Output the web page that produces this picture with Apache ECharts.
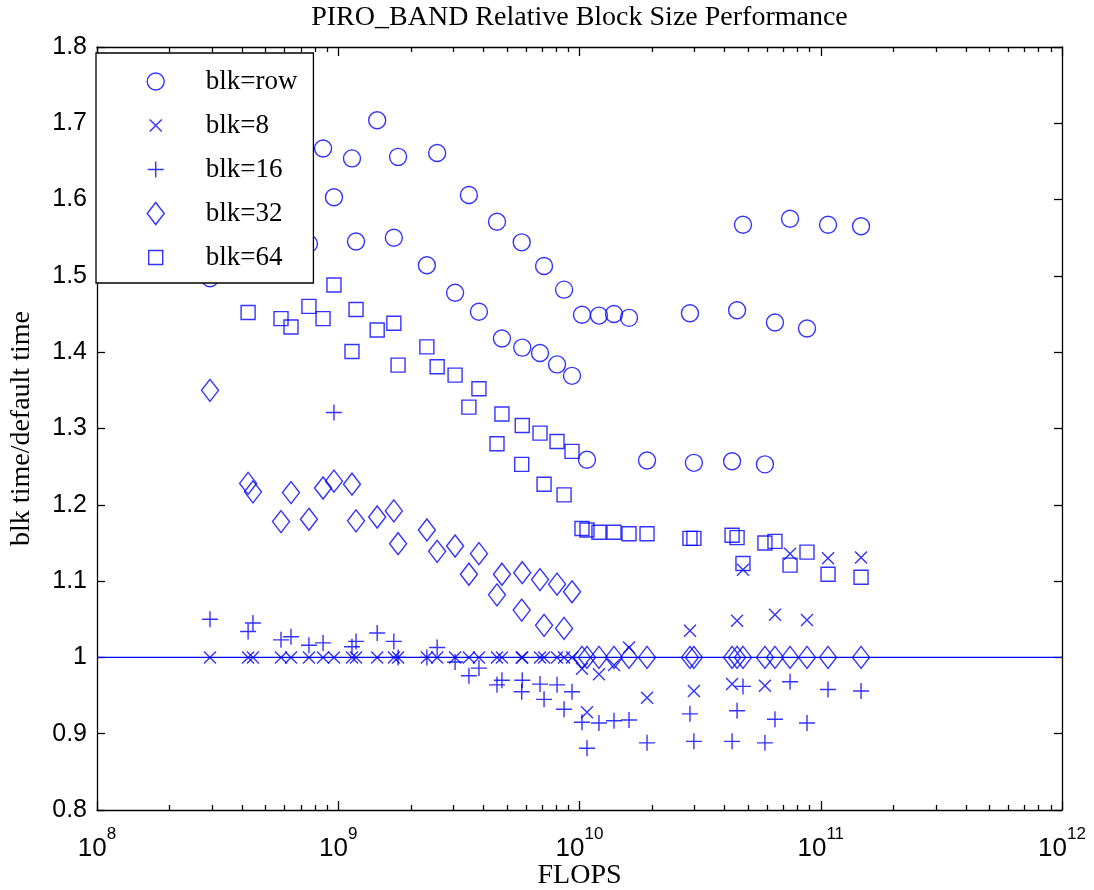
<!DOCTYPE html>
<html>
<head>
<meta charset="utf-8">
<title>PIRO_BAND Relative Block Size Performance</title>
<script src="https://cdn.jsdelivr.net/npm/echarts@6/dist/echarts.min.js"></script>
<style>
  html, body { margin: 0; padding: 0; background: #fff; }
  #chart { width: 1094px; height: 890px; }
</style>
</head>
<body>
<div id="chart"></div>
<script>
// flop count of each test problem (one column per problem)
var flops = [
  2.94e8, 4.23e8, 4.43e8, 5.79e8, 6.37e8, 7.56e8, 8.65e8, 9.60e8, 1.14e9, 1.185e9,
  1.45e9, 1.70e9, 1.77e9, 2.33e9, 2.57e9, 3.05e9, 3.48e9, 3.83e9, 4.55e9, 4.77e9,
  5.76e9, 5.79e9, 6.86e9, 7.13e9, 8.07e9, 8.63e9, 9.31e9, 1.024e10, 1.074e10, 1.204e10,
  1.39e10, 1.604e10, 1.905e10, 2.87e10, 2.98e10, 4.29e10, 4.50e10, 4.76e10, 5.87e10, 6.46e10,
  7.46e10, 8.77e10, 1.072e11, 1.469e11
];

// blk time / default time, null = not visible (under the legend)
var blkRow = [
  1.497, null, null, null, null, 1.542, 1.667, 1.603, 1.654, 1.545,
  1.704, 1.550, 1.656, 1.514, 1.661, 1.478, 1.606, 1.453, 1.571, 1.418,
  1.544, 1.406, 1.399, 1.513, 1.384, 1.482, 1.369, 1.449, 1.259, 1.448,
  1.450, 1.445, 1.258, 1.451, 1.255, 1.257, 1.455, 1.567, 1.253, 1.439,
  1.575, 1.431, 1.567, 1.565
];
var blk8 = [
  1, 1, 1, 1, 1, 1, 1, 1, 1, 1,
  1, 1, 1, 1, 1, 1, 1, 1, 1, 1,
  1, 1, 1, 1, 1, 1, 1, 0.985, 0.928, 0.978,
  0.990, 1.013, 0.947, 1.035, 0.956, 0.965, 1.048, 1.115, 0.963, 1.056,
  1.136, 1.049, 1.130, 1.131
];
var blk16 = [
  1.050, 1.034, 1.045, 1.023, 1.027, 1.016, 1.019, 1.321, 1.014, 1.021,
  1.032, 1.021, 1.000, 1.000, 1.013, 0.994, 0.976, 0.986, 0.964, 0.970,
  0.955, 0.970, 0.965, 0.945, 0.964, 0.932, 0.955, 0.915, 0.881, 0.914,
  0.917, 0.918, 0.888, 0.926, 0.890, 0.890, 0.930, 0.962, 0.888, 0.919,
  0.968, 0.914, 0.958, 0.956
];
var blk32 = [
  1.350, 1.228, 1.217, 1.178, 1.216, 1.181, 1.222, 1.231, 1.227, 1.179,
  1.184, 1.192, 1.149, 1.167, 1.139, 1.146, 1.109, 1.136, 1.082, 1.109,
  1.062, 1.111, 1.102, 1.042, 1.096, 1.038, 1.086, 1, 1, 1,
  1, 1, 1, 1, 1, 1, 1, 1, 1, 1,
  1, 1, 1, 1
];
var blk64 = [
  null, 1.452, null, 1.444, 1.433, 1.460, 1.444, 1.488, 1.401, 1.456,
  1.429, 1.438, 1.383, 1.407, 1.381, 1.370, 1.328, 1.352, 1.280, 1.319,
  1.253, 1.304, 1.294, 1.227, 1.283, 1.213, 1.270, 1.169, 1.167, 1.164,
  1.164, 1.162, 1.162, 1.156, 1.156, 1.160, 1.157, 1.123, 1.150, 1.152,
  1.121, 1.138, 1.109, 1.105
];

var seriesNames = ['blk=row', 'blk=8', 'blk=16', 'blk=32', 'blk=64'];
var yTicks = { min: 0.8, max: 1.8, step: 0.1 };
var xRange = [1e8, 1e12];

var BLUE = '#0000ff';
var SERIF = '"Liberation Serif", "Times New Roman", serif';
var SANS = '"Liberation Sans", Arial, sans-serif';

// all markers drawn in a 24x24 box so the legend shows them at true size
var marks = {
  circle: 'path://M0,0M24,24M20.5,12A8.5,8.5 0 1 1 3.5,12A8.5,8.5 0 1 1 20.5,12Z',
  cross: 'path://M0,0M24,24M6,6L18,18M18,6L6,18',
  plus: 'path://M0,0M24,24M12,4L12,20M4,12L20,12',
  diamond: 'path://M0,0M24,24M12,1L20.5,12L12,23L3.5,12Z',
  square: 'path://M0,0M24,24M5,5L19,5L19,19L5,19Z'
};

function toPoints(vals) {
  var pts = [];
  vals.forEach(function (v, i) {
    if (v !== null) pts.push([flops[i], v]);
  });
  return pts;
}

function scatter(name, vals, symbol) {
  return {
    name: name,
    type: 'scatter',
    xAxisIndex: 0,
    yAxisIndex: 0,
    symbol: symbol,
    symbolSize: 24,
    silent: true,
    z: 3,
    itemStyle: { color: 'rgba(0,0,0,0)', borderColor: BLUE, borderWidth: 1.4 },
    data: toPoints(vals)
  };
}

// minor log ticks (2..9 x 10^n), in exponent units for the overlay axis
var minorTicks = [];
for (var n = 8; n < 12; n++) {
  for (var k = 2; k <= 9; k++) minorTicks.push(n + Math.log(k) / Math.LN10);
}

var chart = echarts.init(document.getElementById('chart'), null, { renderer: 'canvas' });

var gridRect = { left: 97, right: 32, top: 47, bottom: 80, outerBoundsMode: 'none' };
var lineStyle = { color: '#000', width: 1.3 };

chart.setOption({
  animation: false,
  backgroundColor: '#fff',
  grid: [gridRect, gridRect],
  legend: {
    data: seriesNames,
    orient: 'vertical',
    left: 96,
    top: 53,
    padding: [15, 16, 12, 47],
    itemWidth: 24,
    itemHeight: 24,
    itemGap: 17,
    selectedMode: false,
    backgroundColor: '#fff',
    borderColor: '#000',
    borderWidth: 1.3,
    borderRadius: 0,
    z: 10,
    itemStyle: { borderWidth: 1.4 },
    textStyle: {
      fontFamily: SERIF,
      fontSize: 27,
      color: '#000',
      lineHeight: 27,
      padding: [0, 0, 0, 33]
    }
  },
  xAxis: [
    {
      type: 'log',
      gridIndex: 0,
      position: 'bottom',
      logBase: 10,
      min: xRange[0],
      max: xRange[1],
      splitNumber: 4,
      name: 'FLOPS',
      nameLocation: 'middle',
      nameGap: 52,
      nameMoveOverlap: false,
      nameTextStyle: { fontFamily: SERIF, fontSize: 28, color: '#000' },
      axisLine: { lineStyle: lineStyle },
      axisTick: { inside: true, length: 9, lineStyle: lineStyle },
      splitLine: { show: false },
      axisLabel: {
        margin: 16,
        formatter: function (v) {
          var e = Math.round(Math.log(v) / Math.LN10);
          return '{b|10}{s|' + e + '}';
        },
        rich: {
          b: { fontFamily: SANS, fontSize: 26, color: '#000', lineHeight: 36, verticalAlign: 'bottom' },
          s: { fontFamily: SANS, fontSize: 17, color: '#000', lineHeight: 17, verticalAlign: 'top' }
        }
      }
    },
    {
      type: 'log',
      gridIndex: 0,
      position: 'top',
      logBase: 10,
      min: xRange[0],
      max: xRange[1],
      splitNumber: 4,
      name: 'PIRO_BAND Relative Block Size Performance',
      nameLocation: 'middle',
      nameGap: 15,
      nameMoveOverlap: false,
      nameTextStyle: { fontFamily: SERIF, fontSize: 28, color: '#000' },
      axisLine: { lineStyle: lineStyle },
      axisTick: { inside: true, length: 9, lineStyle: lineStyle },
      axisLabel: { show: false },
      splitLine: { show: false }
    },
    {
      type: 'value',
      gridIndex: 1,
      position: 'bottom',
      min: 8,
      max: 12,
      axisLine: { show: false },
      axisLabel: { show: false },
      splitLine: { show: false },
      axisTick: { inside: true, length: 5, customValues: minorTicks, lineStyle: lineStyle }
    },
    {
      type: 'value',
      gridIndex: 1,
      position: 'top',
      min: 8,
      max: 12,
      axisLine: { show: false },
      axisLabel: { show: false },
      splitLine: { show: false },
      axisTick: { inside: true, length: 5, customValues: minorTicks, lineStyle: lineStyle }
    }
  ],
  yAxis: [
    {
      type: 'value',
      gridIndex: 0,
      position: 'left',
      min: yTicks.min,
      max: yTicks.max,
      interval: yTicks.step,
      name: 'blk time/default time',
      nameLocation: 'middle',
      nameGap: 61,
      nameMoveOverlap: false,
      nameTextStyle: { fontFamily: SERIF, fontSize: 28, color: '#000' },
      axisLine: { show: true, lineStyle: lineStyle },
      axisTick: { show: true, inside: true, length: 8, lineStyle: lineStyle },
      splitLine: { show: false },
      axisLabel: { margin: 10, fontFamily: SANS, fontSize: 25, color: '#000' }
    },
    {
      type: 'value',
      gridIndex: 0,
      position: 'right',
      min: yTicks.min,
      max: yTicks.max,
      interval: yTicks.step,
      axisLine: { show: true, lineStyle: lineStyle },
      axisTick: { show: true, inside: true, length: 8, lineStyle: lineStyle },
      axisLabel: { show: false },
      splitLine: { show: false }
    },
    {
      type: 'value',
      gridIndex: 1,
      min: 0,
      max: 1,
      show: false
    }
  ],
  series: [
    {
      name: 'default',
      type: 'line',
      xAxisIndex: 0,
      yAxisIndex: 0,
      symbol: 'none',
      silent: true,
      z: 2,
      lineStyle: { color: BLUE, width: 1.3 },
      data: [[xRange[0], 1], [xRange[1], 1]]
    },
    scatter(seriesNames[0], blkRow, marks.circle),
    scatter(seriesNames[1], blk8, marks.cross),
    scatter(seriesNames[2], blk16, marks.plus),
    scatter(seriesNames[3], blk32, marks.diamond),
    scatter(seriesNames[4], blk64, marks.square)
  ]
});
</script>
</body>
</html>
